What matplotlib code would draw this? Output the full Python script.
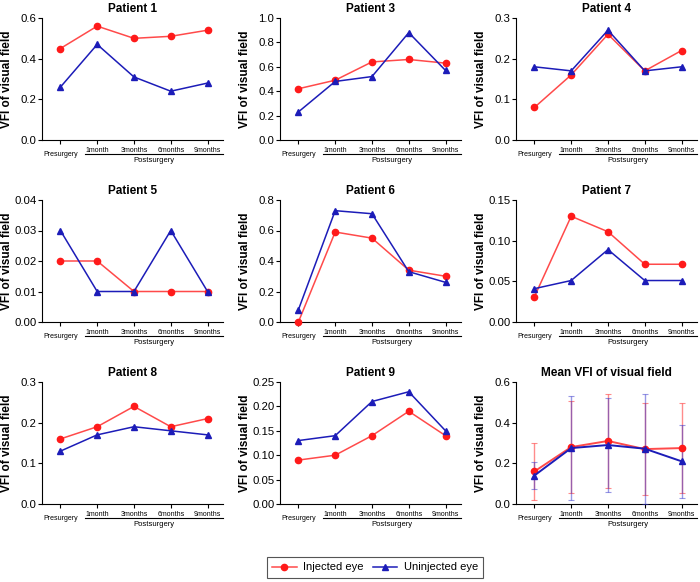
#import required modules
import matplotlib
matplotlib.use('Agg')
import matplotlib.pyplot as plt
import matplotlib.transforms as mtrans
import numpy as np

plt.rcParams['font.family'] = ['Liberation Sans', 'DejaVu Sans']

#time points
timepoints = ['Presurgery', '1month', '3months', '6months', '9months']

#per patient VFI values
titles = ['Patient 1', 'Patient 3', 'Patient 4', 'Patient 5', 'Patient 6',
          'Patient 7', 'Patient 8', 'Patient 9']
injected = [
    [0.45, 0.56, 0.50, 0.51, 0.54],
    [0.42, 0.49, 0.64, 0.66, 0.63],
    [0.08, 0.16, 0.26, 0.17, 0.22],
    [0.02, 0.02, 0.01, 0.01, 0.01],
    [0.00, 0.59, 0.55, 0.34, 0.30],
    [0.031, 0.13, 0.111, 0.071, 0.071],
    [0.16, 0.19, 0.24, 0.19, 0.21],
    [0.09, 0.10, 0.14, 0.19, 0.14],
]
uninjected = [
    [0.26, 0.47, 0.31, 0.24, 0.28],
    [0.23, 0.48, 0.52, 0.88, 0.57],
    [0.18, 0.17, 0.27, 0.17, 0.18],
    [0.03, 0.01, 0.01, 0.03, 0.01],
    [0.08, 0.73, 0.71, 0.33, 0.26],
    [0.041, 0.051, 0.089, 0.051, 0.051],
    [0.13, 0.17, 0.19, 0.18, 0.17],
    [0.13, 0.14, 0.21, 0.23, 0.15],
]
ymax = [0.6, 1.0, 0.3, 0.04, 0.8, 0.15, 0.3, 0.25]
ystep = [0.2, 0.2, 0.1, 0.01, 0.2, 0.05, 0.1, 0.05]
ydec = [1, 1, 1, 2, 1, 2, 1, 2]

#mean panel
mean_inj = [0.16, 0.28, 0.31, 0.27, 0.275]
sd_inj = [0.14, 0.228, 0.23, 0.225, 0.222]
mean_uninj = [0.14, 0.275, 0.29, 0.272, 0.21]
sd_uninj = [0.068, 0.255, 0.23, 0.27, 0.18]

red_line = '#ff4a4a'
red_mark = '#ff1a1a'
blue = '#1c1cb8'

#panel layout in pixels (left, right) and (top, bottom)
W, H = 700, 582
cols = [(42, 223), (280, 461), (516, 697)]
rows = [(18, 140), (200, 322), (382, 504)]

fig = plt.figure(figsize=(7, 5.82), dpi=100)

def style_axis(ax, top, step, dec, title):
    x = np.arange(len(timepoints))
    ax.set_xlim(-0.5, 4.42)
    ax.set_ylim(0, top)
    ax.set_yticks(np.arange(0, top + step / 2, step))
    ax.yaxis.set_major_formatter(matplotlib.ticker.FormatStrFormatter('%.{}f'.format(dec)))
    ax.set_xticks(x)
    ax.set_xticklabels(timepoints, fontsize=5)
    for s in ['top', 'right']:
        ax.spines[s].set_visible(False)
    for s in ['left', 'bottom']:
        ax.spines[s].set_linewidth(0.8)
    ax.tick_params(axis='y', labelsize=8.2, length=3, width=0.8, pad=1)
    ax.tick_params(axis='x', length=3, width=0.8, pad=2)
    ax.xaxis.get_major_ticks()[0].set_pad(5)
    ax.set_ylabel('VFI of visual field', fontsize=8.5, fontweight='bold')
    #fixed label position, independent of tick label width
    ax.yaxis.set_label_coords(-29 / 181, 0.5)
    ax.set_title(title, fontsize=8.5, fontweight='bold', pad=4)
    #postsurgery bracket
    trans = mtrans.blended_transform_factory(ax.transData, ax.transAxes)
    ax.plot([0.68, 4.42], [-0.115, -0.115], color='black', lw=0.8,
            transform=trans, clip_on=False)
    ax.text(2.55, -0.165, 'Postsurgery', fontsize=5.5, ha='center', va='center',
            transform=trans)

x = np.arange(len(timepoints))
for i in range(9):
    r, c = divmod(i, 3)
    l, rr = cols[c]
    t, b = rows[r]
    ax = fig.add_axes([l / W, 1 - b / H, (rr - l) / W, (b - t) / H])
    if i < 8:
        ax.plot(x, injected[i], color=red_line, lw=1.1, marker='o', ms=4.5,
                mfc=red_mark, mec=red_mark, clip_on=False, zorder=3, label='Injected eye')
        ax.plot(x, uninjected[i], color=blue, lw=1.1, marker='^', ms=4.5,
                mfc=blue, mec=blue, clip_on=False, zorder=3, label='Uninjected eye')
        style_axis(ax, ymax[i], ystep[i], ydec[i], titles[i])
    else:
        ax.errorbar(x, mean_inj, yerr=sd_inj, color=red_line, lw=1.4, marker='o', ms=4.5,
                    mfc=red_mark, mec=red_mark, ecolor=(1, 0.25, 0.25, 0.6), elinewidth=1.0,
                    capsize=2, capthick=0.8, clip_on=False, zorder=3)
        ax.errorbar(x, mean_uninj, yerr=sd_uninj, color=blue, lw=1.4, marker='^', ms=4.5,
                    mfc=blue, mec=blue, ecolor=(0.2, 0.2, 0.8, 0.5), elinewidth=1.0,
                    capsize=2, capthick=0.8, clip_on=False, zorder=3)
        style_axis(ax, 0.6, 0.2, 1, 'Mean VFI of visual field')
    if i == 0:
        handles, labels = ax.get_legend_handles_labels()

leg = fig.legend(handles, labels, loc='center', ncol=2,
                 bbox_to_anchor=(375 / W, 1 - 567.5 / H), fontsize=8,
                 fancybox=False, edgecolor='#555555', framealpha=1,
                 handlelength=2.2, columnspacing=0.8, handletextpad=0.6,
                 borderpad=0.5)
leg.get_frame().set_linewidth(0.8)

fig.savefig('out.png', dpi=100)
